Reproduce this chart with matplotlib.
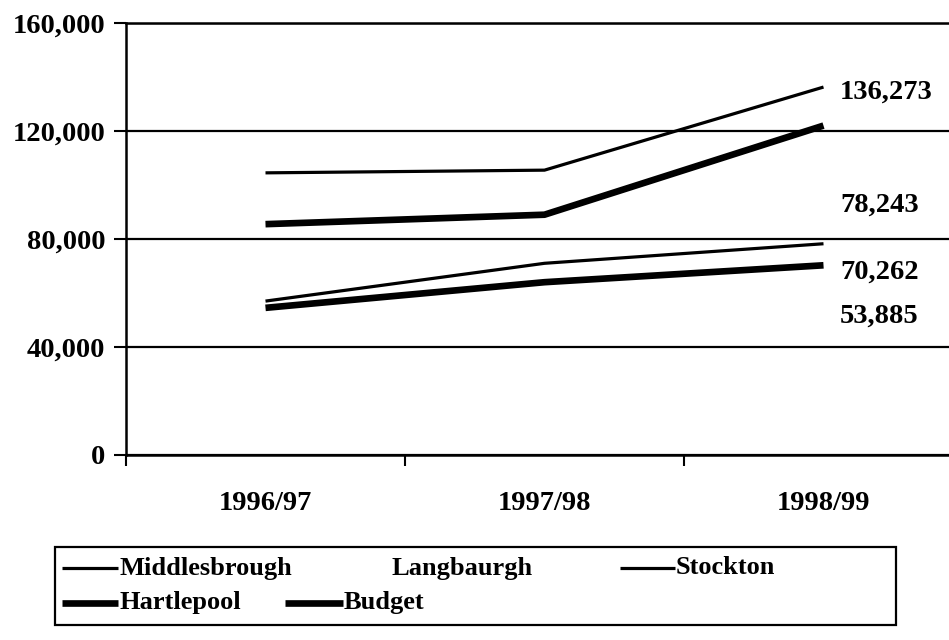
import matplotlib

matplotlib.use('Agg')
import matplotlib.pyplot as plt
import matplotlib.ticker as mticker
from matplotlib.lines import Line2D
from matplotlib.patches import Rectangle

# --- данные ---
years = ['1996/97', '1997/98', '1998/99']
middlesbrough = [104500, 105500, 136273]
langbaurgh = [50000, 52000, 53885]
stockton = [57000, 71000, 78243]
hartlepool = [54500, 64000, 70262]
budget = [85500, 89000, 122000]

end_labels = ['136,273', '78,243', '70,262', '53,885']
end_label_y = [134500, 92600, 67800, 51300]

W, H = 949, 640
NUM_FONTSIZE = 20.5
LEGEND_FONTSIZE = 19
THIN = 2.3
THICK = 4.8

plt.rcParams['font.family'] = ['Liberation Serif', 'DejaVu Serif']
plt.rcParams['font.weight'] = 'bold'

fig = plt.figure(figsize=(W / 100, H / 100), dpi=100)
ax = fig.add_axes([126 / W, 185 / H, 823 / W, 432 / H])

x = range(len(years))
ax.plot(x, langbaurgh, color='white', lw=THIN, zorder=1)
ax.plot(x, middlesbrough, color='black', lw=THIN, solid_capstyle='butt', zorder=3)
ax.plot(x, stockton, color='black', lw=THIN, solid_capstyle='butt', zorder=3)
ax.plot(x, hartlepool, color='black', lw=THICK, solid_capstyle='butt', zorder=3)
ax.plot(x, budget, color='black', lw=THICK, solid_capstyle='butt', zorder=3)

for txt, ly in zip(end_labels, end_label_y):
    ax.text(2.06, ly, txt, ha='left', va='center', fontsize=NUM_FONTSIZE)

ax.set_xlim(-0.5, -0.5 + 823 / 279)
ax.set_ylim(0, 160000)

ax.set_yticks(range(0, 160001, 40000))
ax.yaxis.set_major_formatter(mticker.FuncFormatter(lambda v, p: format(int(v), ',')))
ax.tick_params(axis='y', direction='out', length=9, width=1.5, pad=6, labelsize=NUM_FONTSIZE)
ax.yaxis.grid(True, color='black', lw=1.6)

ax.set_xticks([-0.5, 0.5, 1.5])
ax.set_xticklabels([])
ax.set_xticks(list(x), minor=True)
ax.set_xticklabels(years, minor=True)
ax.tick_params(axis='x', which='major', direction='out', length=8, width=1.5)
ax.tick_params(axis='x', which='minor', length=0, pad=26, labelsize=NUM_FONTSIZE)

ax.spines['right'].set_visible(False)
for s in ['left', 'bottom', 'top']:
    ax.spines[s].set_linewidth(1.8)

# --- легенда вручную ---
fig.add_artist(Rectangle((55 / W, 15 / H), 841 / W, 78 / H, transform=fig.transFigure,
                         fill=False, ec='black', lw=1.6))
legend_items = [
    ('Middlesbrough', THIN, 'black', 62, 118, 568),
    ('Langbaurgh', THIN, 'white', 335, 390, 568),
    ('Stockton', THIN, 'black', 620, 675, 568),
    ('Hartlepool', THICK, 'black', 62, 118, 603),
    ('Budget', THICK, 'black', 285, 343, 603),
]
for label, lw, col, x0, x1, yy in legend_items:
    fig.add_artist(Line2D([x0 / W, x1 / W], [1 - yy / H, 1 - yy / H], transform=fig.transFigure,
                          color=col, lw=lw, solid_capstyle='butt'))
    fig.text((x1 + 1) / W, 1 - yy / H, label, ha='left', va='center', fontsize=LEGEND_FONTSIZE)

fig.savefig('out.png', dpi=100)
plt.close(fig)
